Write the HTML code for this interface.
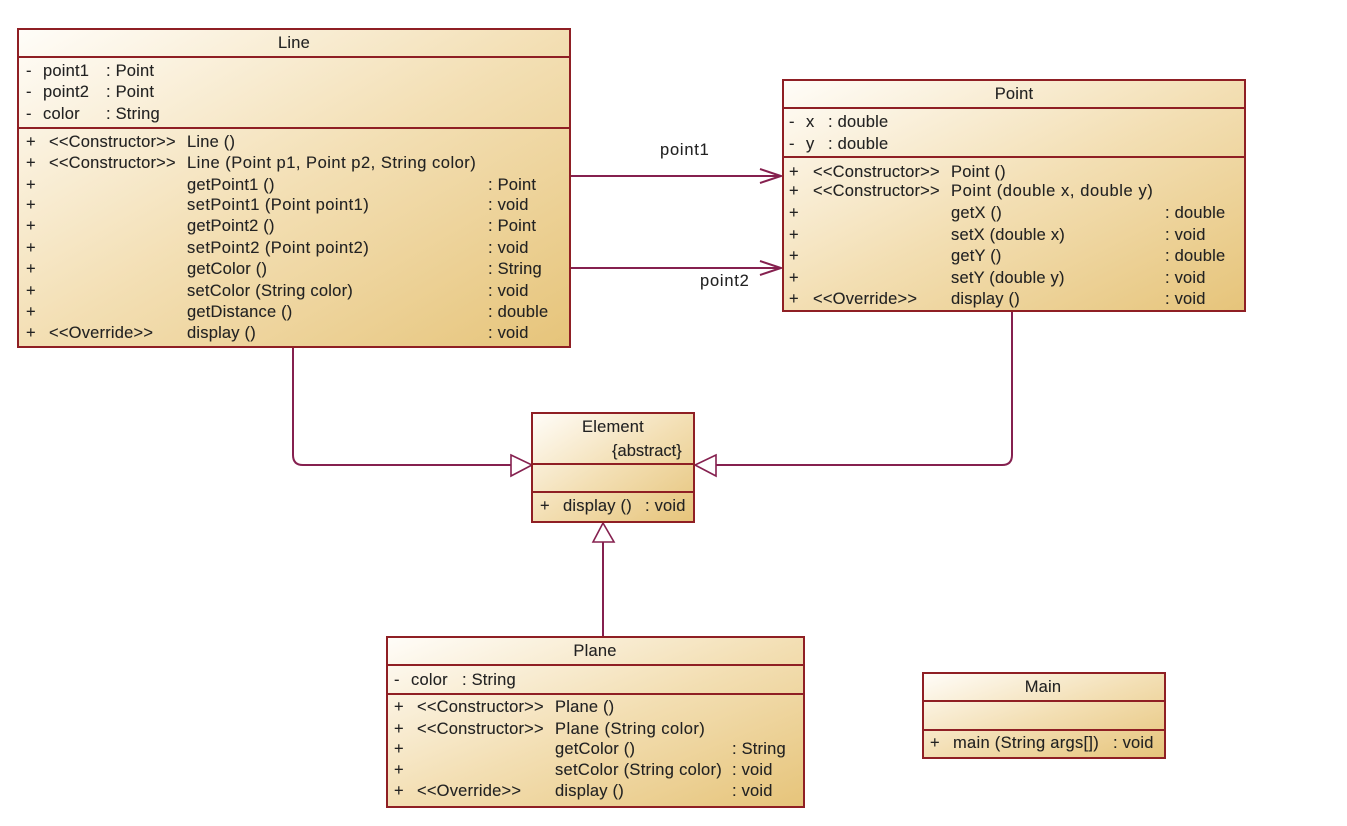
<!DOCTYPE html>
<html>
<head>
<meta charset="utf-8">
<title>UML Class Diagram</title>
<style>
html,body{margin:0;padding:0;background:#fff;width:1347px;height:826px;overflow:hidden}
svg{display:block}
text{font-family:"Liberation Sans",sans-serif;font-size:16.5px;letter-spacing:.2px;fill:#222;stroke:#222;stroke-width:.1px;filter:blur(.25px)}
.b{fill:url(#g);stroke:#8f1f24;stroke-width:2}
.d{stroke:#8f1f24;stroke-width:2;fill:none}
.c{stroke:#85204f;stroke-width:2;fill:none}
.h{stroke:#85204f;stroke-width:1.6;fill:#fff}
.m{text-anchor:middle}
</style>
</head>
<body>
<svg width="1347" height="826" viewBox="0 0 1347 826" xmlns="http://www.w3.org/2000/svg">
<defs>
<linearGradient id="g" x1="0" y1="0" x2="1" y2="1">
<stop offset="0" stop-color="#fffdf9"/>
<stop offset=".5" stop-color="#f3dfb4"/>
<stop offset="1" stop-color="#e6c47a"/>
</linearGradient>
</defs>

<!-- connectors -->
<path class="c" d="M571 176H779"/>
<path class="c" d="M760 169L781 176L760 183" stroke-width="1.6"/>
<path class="c" d="M571 268H779"/>
<path class="c" d="M760 261L781 268L760 275" stroke-width="1.6"/>
<text x="660" y="155" textLength="49">point1</text>
<text x="700" y="286" textLength="49">point2</text>
<path class="c" d="M293 348V455Q293 465 303 465H511"/>
<path class="h" d="M511 455L532 465L511 476Z"/>
<path class="c" d="M1012 311V455Q1012 465 1002 465H716"/>
<path class="h" d="M716 455L695 465L716 476Z"/>
<path class="c" d="M603 542V637"/>
<path class="h" d="M593 542L603 523L614 542Z"/>

<!-- Line -->
<rect class="b" x="18" y="29" width="552" height="318"/>
<path class="d" d="M18 57H570M18 128H570"/>
<text class="m" x="294" y="48">Line</text>
<text x="26" y="76">-</text><text x="43" y="76">point1</text><text x="106" y="76">: Point</text>
<text x="26" y="97">-</text><text x="43" y="97">point2</text><text x="106" y="97">: Point</text>
<text x="26" y="119">-</text><text x="43" y="119">color</text><text x="106" y="119">: String</text>
<text x="26" y="147">+</text><text x="49" y="147">&lt;&lt;Constructor&gt;&gt;</text><text x="187" y="147">Line ()</text>
<text x="26" y="168">+</text><text x="49" y="168">&lt;&lt;Constructor&gt;&gt;</text><text x="187" y="168" textLength="289">Line (Point p1, Point p2, String color)</text>
<text x="26" y="190">+</text><text x="187" y="190">getPoint1 ()</text><text x="488" y="190">: Point</text>
<text x="26" y="210">+</text><text x="187" y="210" textLength="182">setPoint1 (Point point1)</text><text x="488" y="210">: void</text>
<text x="26" y="231">+</text><text x="187" y="231">getPoint2 ()</text><text x="488" y="231">: Point</text>
<text x="26" y="253">+</text><text x="187" y="253" textLength="182">setPoint2 (Point point2)</text><text x="488" y="253">: void</text>
<text x="26" y="274">+</text><text x="187" y="274">getColor ()</text><text x="488" y="274">: String</text>
<text x="26" y="296">+</text><text x="187" y="296" textLength="166">setColor (String color)</text><text x="488" y="296">: void</text>
<text x="26" y="317">+</text><text x="187" y="317">getDistance ()</text><text x="488" y="317">: double</text>
<text x="26" y="338">+</text><text x="49" y="338">&lt;&lt;Override&gt;&gt;</text><text x="187" y="338">display ()</text><text x="488" y="338">: void</text>

<!-- Point -->
<rect class="b" x="783" y="80" width="462" height="231"/>
<path class="d" d="M783 108H1245M783 157H1245"/>
<text class="m" x="1014" y="99">Point</text>
<text x="789" y="127">-</text><text x="806" y="127">x</text><text x="828" y="127">: double</text>
<text x="789" y="149">-</text><text x="806" y="149">y</text><text x="828" y="149">: double</text>
<text x="789" y="177">+</text><text x="813" y="177">&lt;&lt;Constructor&gt;&gt;</text><text x="951" y="177">Point ()</text>
<text x="789" y="196">+</text><text x="813" y="196">&lt;&lt;Constructor&gt;&gt;</text><text x="951" y="196" textLength="202">Point (double x, double y)</text>
<text x="789" y="218">+</text><text x="951" y="218">getX ()</text><text x="1165" y="218">: double</text>
<text x="789" y="240">+</text><text x="951" y="240">setX (double x)</text><text x="1165" y="240">: void</text>
<text x="789" y="261">+</text><text x="951" y="261">getY ()</text><text x="1165" y="261">: double</text>
<text x="789" y="283">+</text><text x="951" y="283">setY (double y)</text><text x="1165" y="283">: void</text>
<text x="789" y="304">+</text><text x="813" y="304">&lt;&lt;Override&gt;&gt;</text><text x="951" y="304">display ()</text><text x="1165" y="304">: void</text>

<!-- Element -->
<rect class="b" x="532" y="413" width="162" height="109"/>
<path class="d" d="M532 464H694M532 492H694"/>
<text class="m" x="613" y="432">Element</text>
<text x="612" y="456" textLength="70">{abstract}</text>
<text x="540" y="511">+</text><text x="563" y="511">display ()</text><text x="645" y="511">: void</text>

<!-- Plane -->
<rect class="b" x="387" y="637" width="417" height="170"/>
<path class="d" d="M387 665H804M387 694H804"/>
<text class="m" x="595" y="656">Plane</text>
<text x="394" y="685">-</text><text x="411" y="685">color</text><text x="462" y="685">: String</text>
<text x="394" y="712">+</text><text x="417" y="712">&lt;&lt;Constructor&gt;&gt;</text><text x="555" y="712">Plane ()</text>
<text x="394" y="734">+</text><text x="417" y="734">&lt;&lt;Constructor&gt;&gt;</text><text x="555" y="734" textLength="150">Plane (String color)</text>
<text x="394" y="754">+</text><text x="555" y="754">getColor ()</text><text x="732" y="754">: String</text>
<text x="394" y="775">+</text><text x="555" y="775" textLength="167">setColor (String color)</text><text x="732" y="775">: void</text>
<text x="394" y="796">+</text><text x="417" y="796">&lt;&lt;Override&gt;&gt;</text><text x="555" y="796">display ()</text><text x="732" y="796">: void</text>

<!-- Main -->
<rect class="b" x="923" y="673" width="242" height="85"/>
<path class="d" d="M923 701H1165M923 730H1165"/>
<text class="m" x="1043" y="692">Main</text>
<text x="930" y="748">+</text><text x="953" y="748" textLength="146">main (String args[])</text><text x="1113" y="748">: void</text>
</svg>
</body>
</html>
